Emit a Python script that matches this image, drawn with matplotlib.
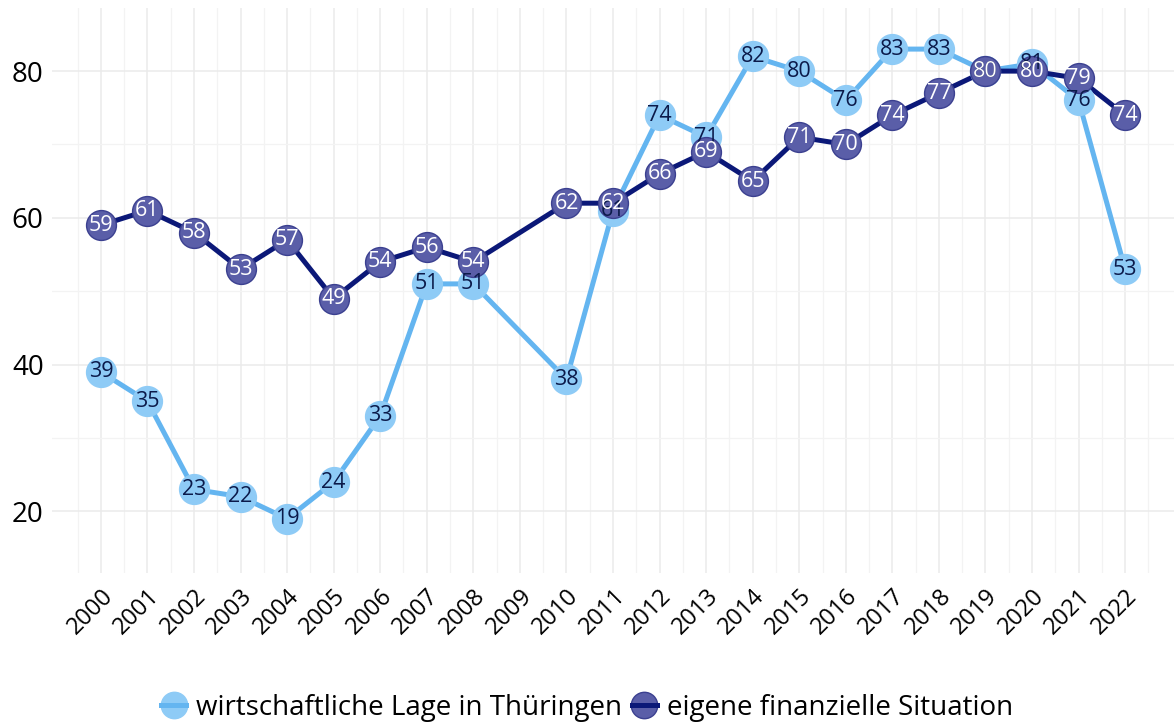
import matplotlib.pyplot as plt
from matplotlib.lines import Line2D
from matplotlib.legend_handler import HandlerTuple

# data (no survey in 2009)
years = [2000, 2001, 2002, 2003, 2004, 2005, 2006, 2007, 2008, 2010, 2011,
         2012, 2013, 2014, 2015, 2016, 2017, 2018, 2019, 2020, 2021, 2022]
lage = [39, 35, 23, 22, 19, 24, 33, 51, 51, 38, 61,
        74, 71, 82, 80, 76, 83, 83, 80, 81, 76, 53]
eigene = [59, 61, 58, 53, 57, 49, 54, 56, 54, 62, 62,
          66, 69, 65, 71, 70, 74, 77, 80, 80, 79, 74]
tick_years = list(range(2000, 2023))
labels = ['wirtschaftliche Lage in Thüringen', 'eigene finanzielle Situation']

plt.rcParams['font.family'] = ['Open Sans', 'DejaVu Sans']

fig = plt.figure(figsize=(11.74, 7.24), dpi=100)
ax = fig.add_axes([52 / 1174, 1 - 573 / 724, 1 - 52 / 1174, 565 / 724])

styles = [
    dict(line='#64b5f0', face='#8ecbf6', edge='#8ecbf6', text='#0b1a4a'),
    dict(line='#0b1878', face='#5a5ea8', edge='#3b4090', text='white'),
]

for vals, st in zip([lage, eigene], styles):
    ax.plot(years, vals, color=st['line'], lw=3.6, zorder=2)
    ax.plot(years, vals, 'o', ms=21.5, mfc=st['face'], mec=st['edge'],
            mew=1, zorder=3)
    for x, y in zip(years, vals):
        ax.text(x, y, str(y), ha='center', va='center', fontsize=15.5,
                color=st['text'], zorder=4)

ax.set_xticks(tick_years)
ax.set_xticklabels([str(y) for y in tick_years], rotation=45, ha='right',
                   rotation_mode='anchor', fontsize=17)
ax.set_xticks([y + 0.5 for y in range(1998, 2023)], minor=True)
ax.set_yticks([20, 40, 60, 80])
ax.set_yticks([30, 50, 70], minor=True)
ax.set_xlim(1998.95, 2023.05)
ax.set_ylim(11.6, 88.6)
ax.tick_params(axis='y', labelsize=20, length=0, pad=6)
ax.tick_params(axis='x', length=0, pad=8)
ax.tick_params(which='minor', length=0)
ax.grid(True, which='major', color='#ebebeb', lw=1.1)
ax.grid(True, which='minor', color='#f3f3f3', lw=0.9)
ax.set_axisbelow(True)
for s in ax.spines.values():
    s.set_visible(False)

handles = []
for st in styles:
    dot = Line2D([0], [0], ls='none', marker='o', ms=19,
                 mfc=st['face'], mec=st['edge'])
    ln = Line2D([0], [0], color=st['line'], lw=3.6)
    handles.append((dot, ln))
fig.legend(handles, labels, loc='center', bbox_to_anchor=(0.5, 1 - 708 / 724),
           ncol=2, frameon=False, fontsize=20, handlelength=0.9,
           handletextpad=0.35, columnspacing=0.35,
           handler_map={tuple: HandlerTuple(ndivide=1)})

fig.savefig('out.png', dpi=100)
